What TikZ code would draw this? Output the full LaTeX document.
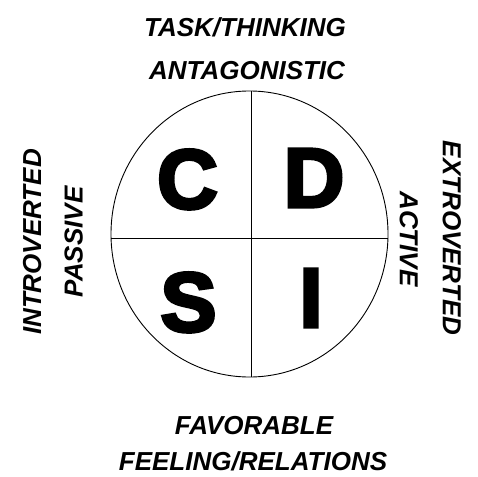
\documentclass[tikz,border=0pt]{standalone}
\usepackage{fontspec}
\setmainfont{Liberation Sans}
\newfontfamily\heavyfont[FakeBold=4]{Liberation Sans Bold}
\begin{document}
\begin{tikzpicture}[x=1pt,y=-1pt,
    axis/.style={line width=0.9pt},
    trait/.style={font=\fontsize{26}{30}\selectfont\bfseries\itshape,inner sep=0pt,text depth=0pt},
    letter/.style={font=\heavyfont\fontsize{84}{90}\selectfont,inner sep=0pt,text depth=0pt}]
\useasboundingbox (0,0) rectangle (478,476);
% circle and quadrants
\draw[axis] (249.5,234) ellipse [x radius=138.5, y radius=143];
\coordinate (top) at (251,91.2);
\coordinate (bottom) at (251,376.8);
\coordinate (left) at (111.2,238);
\coordinate (right) at (387.8,238);
\draw[axis] (top) -- (bottom);
\draw[axis] (left) -- (right);
% quadrant letters
\node[letter] (c) at (187.5,179) {C};
\node[letter] (d) at (314,178) {D};
\node[letter] (s) at (188.5,302) {S};
\node[letter] (i) at (311,298) {I};
% labels round the circle
\node[trait] (task) at (245,27) {TASK/THINKING};
\node[trait] (antag) at (247,70.5) {ANTAGONISTIC};
\node[trait] (fav) at (254,425) {FAVORABLE};
\node[trait] (feel) at (253,461) {FEELING/RELATIONS};
\node[trait,rotate=90] (intro) at (32,242) {INTROVERTED};
\node[trait,rotate=90] (passive) at (73.5,242) {PASSIVE};
\node[trait,rotate=-90] (extro) at (452,238) {EXTROVERTED};
\node[trait,rotate=-90] (active) at (409,239) {ACTIVE};
\end{tikzpicture}
\end{document}
